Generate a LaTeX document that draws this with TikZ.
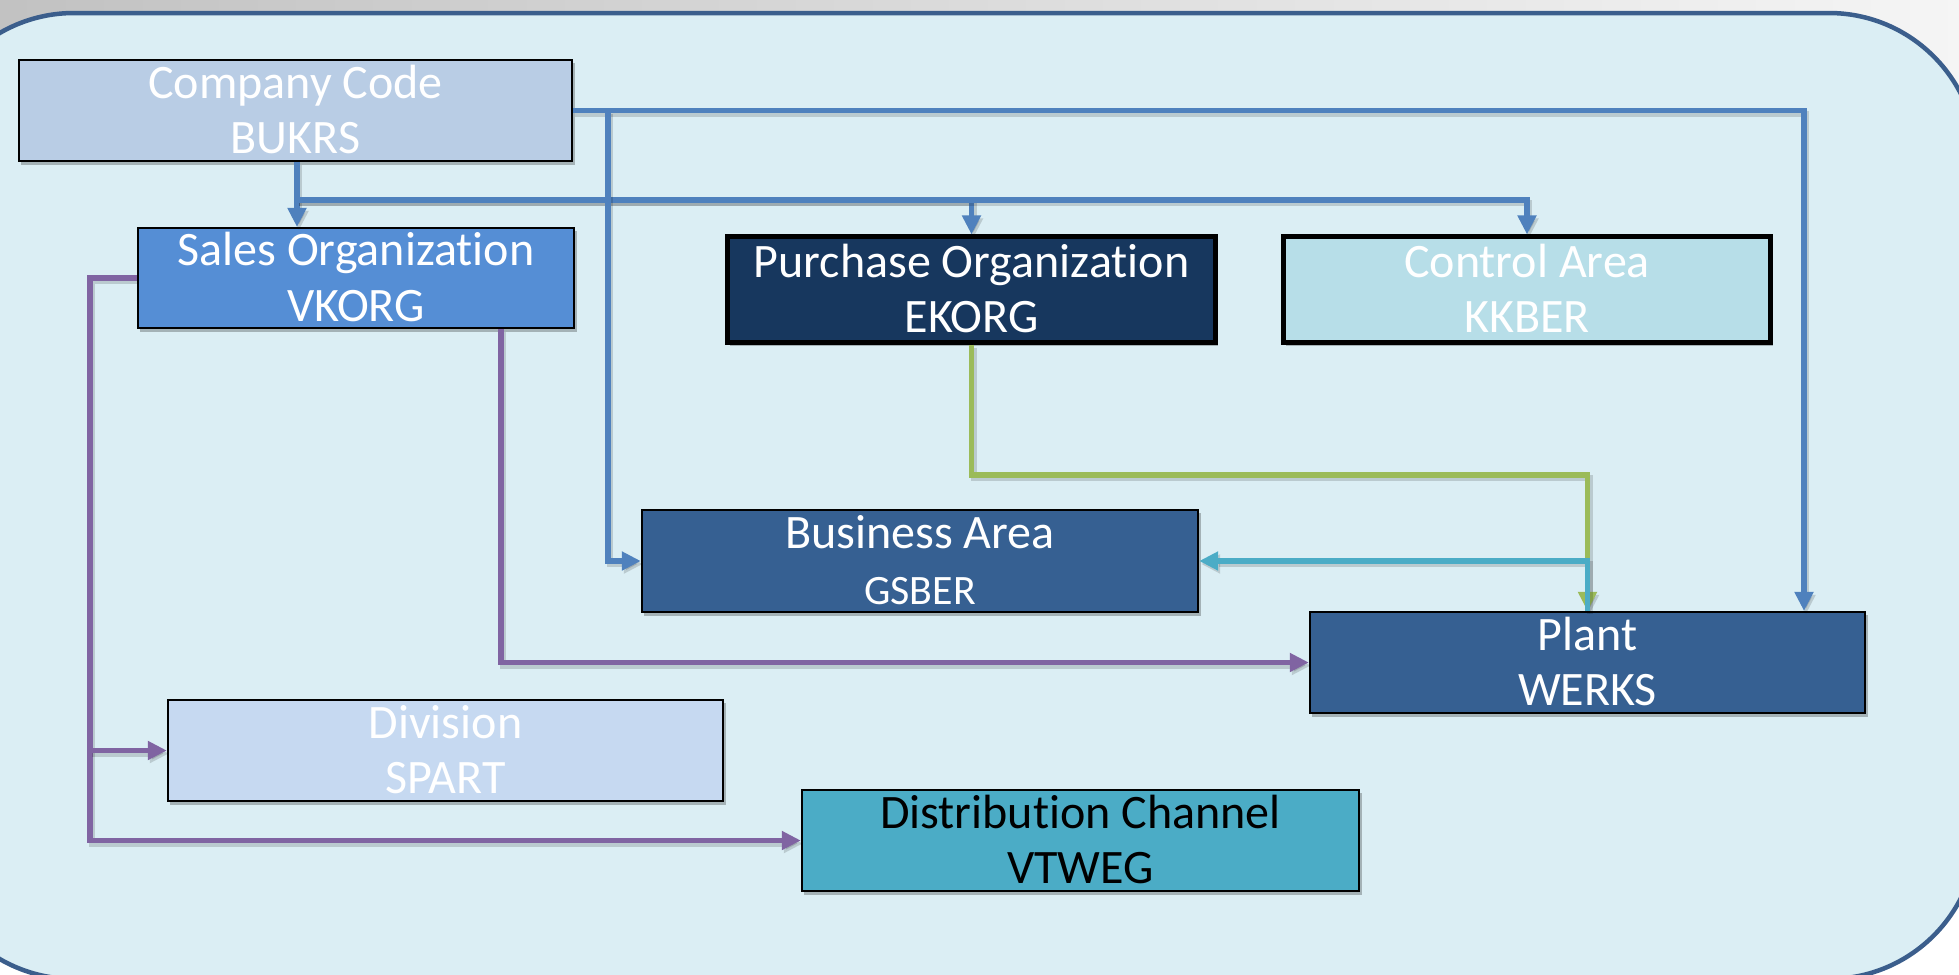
\documentclass[tikz,border=0pt]{standalone}
\usepackage{fontspec}
\setmainfont{Carlito}[Ligatures=NoCommon]
\usetikzlibrary{arrows.meta,shadows}
\definecolor{bgfill}{HTML}{DBEEF4}
\definecolor{bgline}{HTML}{3B5E8C}
\definecolor{ccfill}{HTML}{B9CDE5}
\definecolor{sofill}{HTML}{558ED5}
\definecolor{pofill}{HTML}{17375E}
\definecolor{cafill}{HTML}{B7DEE8}
\definecolor{bafill}{HTML}{366092}
\definecolor{dvfill}{HTML}{C6D9F1}
\definecolor{dcfill}{HTML}{4BACC6}
\definecolor{lblue}{HTML}{4F81BD}
\definecolor{lpurple}{HTML}{8064A2}
\definecolor{lgreen}{HTML}{9BBB59}
\definecolor{lteal}{HTML}{4BACC6}
\begin{document}
\begin{tikzpicture}[x=0.01cm,y=-0.01cm,
  orgbox/.style={draw=black, line width=0.02cm, inner sep=0pt, align=center, text=white,
     font=\fontsize{13.66pt}{15.65pt}\selectfont, text height=0.86cm, text depth=0cm,
     drop shadow={shadow xshift=0.025cm, shadow yshift=-0.035cm, opacity=0.25, fill=black}},
  thickbox/.style={line width=0.05cm},
  conn/.style={line width=0.052cm, -{Triangle[length=0.19cm,width=0.18cm]},
     preaction={draw=black, opacity=0.15, line width=0.06cm,
       transform canvas={xshift=0.02cm, yshift=-0.03cm}}}
]
\useasboundingbox (0,0) rectangle (1959,975);
\begin{scope}
  \clip (0,0) rectangle (1959,975);
  \fill[white] (0,0) rectangle (1959,975);
  \shade[left color=black!24, right color=black!4] (0,0) rectangle (1959,200);
  \draw[bgline, fill=bgfill, line width=0.045cm, rounded corners=1.48cm] (-74,13) rectangle (1977,979);
\end{scope}

% nodes
\node[orgbox, fill=ccfill, minimum width=5.53cm, minimum height=1.01cm] (cc) at (295.5,110.5) {Company Code\\BUKRS};
\node[orgbox, fill=sofill, minimum width=4.36cm, minimum height=1.00cm] (so) at (356,278) {Sales Organization\\VKORG};
\node[orgbox, thickbox, fill=pofill, minimum width=4.87cm, minimum height=1.05cm] (po) at (971.5,289.5) {Purchase Organization\\EKORG};
\node[orgbox, thickbox, fill=cafill, minimum width=4.86cm, minimum height=1.05cm] (ca) at (1527,289.5) {Control Area\\KKBER};
\node[orgbox, fill=bafill, minimum width=5.56cm, minimum height=1.02cm] (ba) at (920,561) {Business Area\\{\fontsize{11.9pt}{14pt}\selectfont GSBER}};
\node[orgbox, fill=bafill, minimum width=5.55cm, minimum height=1.01cm] (pl) at (1587.5,662.5) {Plant\\WERKS};
\node[orgbox, fill=dvfill, minimum width=5.55cm, minimum height=1.01cm] (dv) at (445.5,750.5) {Division\\SPART};
\node[orgbox, fill=dcfill, text=black, minimum width=5.57cm, minimum height=1.01cm] (dc) at (1080.5,840.5) {Distribution Channel\\VTWEG};

% helper coordinates
\coordinate (j1) at (297,200);
\coordinate (bx) at (608,0);
\coordinate (px) at (1804,0);
\coordinate (lx) at (90,0);
\coordinate (sx) at (501,0);
\coordinate (gy) at (0,475);

% blue connectors
\draw[lblue, conn] (cc.south -| j1) -- (so.north -| j1);
\draw[lblue, conn] (j1) -| (po.north);
\draw[lblue, conn] (j1) -| (ca.north);
\draw[lblue, conn] (cc.east) -| (pl.north -| px);
\draw[lblue, conn] (cc.east -| bx) |- (ba.west);

% purple connectors
\draw[lpurple, conn] (so.west) -| (lx |- dc.west) -- (dc.west);
\draw[lpurple, conn] (lx |- dv.west) -- (dv.west);
\draw[lpurple, conn] (so.south -| sx) |- (pl.west);

% green and teal
\draw[lgreen, conn] (po.south) -- (po.south |- gy) -| (pl.north);
\draw[lteal, conn] (pl.north) |- (ba.east);
\end{tikzpicture}
\end{document}
